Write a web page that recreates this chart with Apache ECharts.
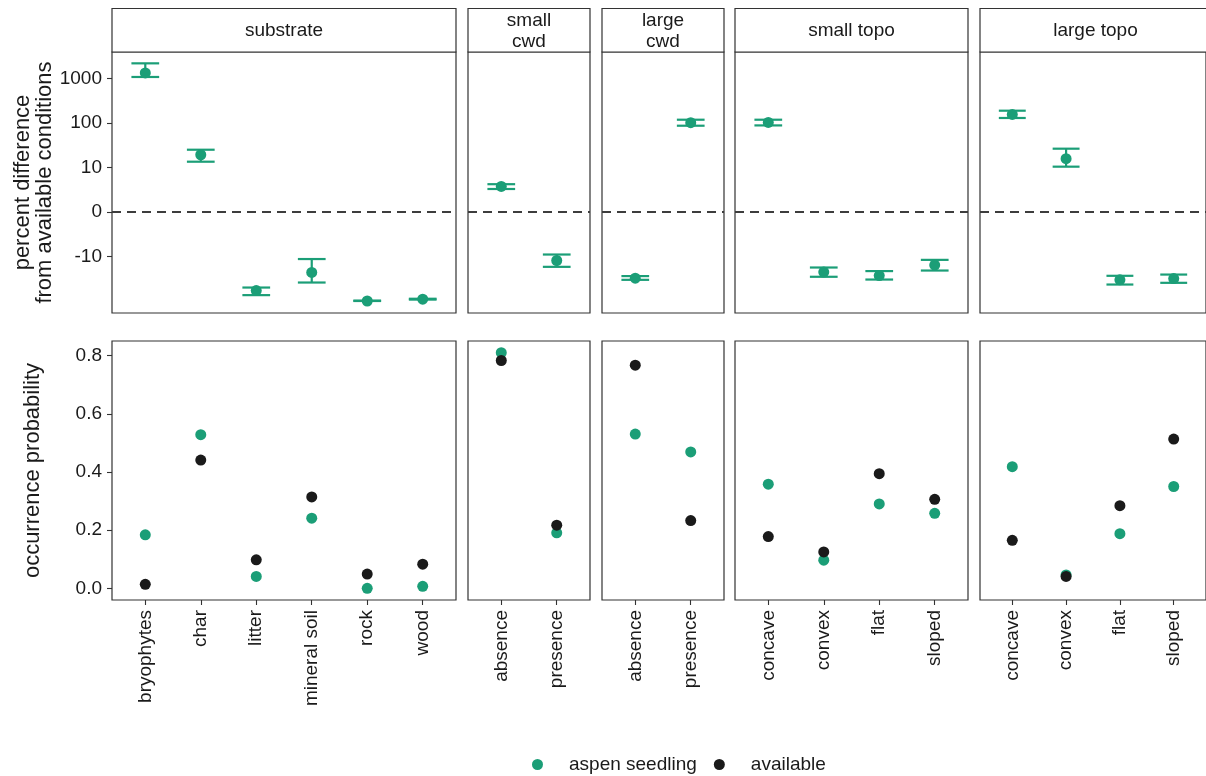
<!DOCTYPE html>
<html>
<head>
<meta charset="utf-8">
<script src="https://cdn.jsdelivr.net/npm/echarts@6/dist/echarts.min.js"></script>
<style>
  html, body { margin: 0; padding: 0; background: #fff; }
  #chart { width: 1206px; height: 776px; }
</style>
</head>
<body>
<div id="chart"></div>
<script>
// Facet titles and their categories
const facets = ['substrate', 'small\ncwd', 'large\ncwd', 'small topo', 'large topo'];
const categories = [
  ['bryophytes', 'char', 'litter', 'mineral soil', 'rock', 'wood'],
  ['absence', 'presence'],
  ['absence', 'presence'],
  ['concave', 'convex', 'flat', 'sloped'],
  ['concave', 'convex', 'flat', 'sloped']
];

// Percent difference of aspen seedlings from available conditions (estimate, lower, upper)
const pctDiff = [
  [1343, 19.4, -58.2, -22.8, -100, -90.8],
  [3.5, -12.2],
  [-30.6, 102.3],
  [104, -22.3, -26.7, -15.5],
  [157.4, 15.8, -33.4, -31.2]
];
const pctLow = [
  [1092, 13.5, -73.8, -38.4, -100, -93],
  [3.0, -17.0],
  [-33.4, 87.5],
  [88.9, -28.5, -32.9, -20.6],
  [130.6, 10.4, -42.6, -39.0]
];
const pctHigh = [
  [2213, 25.2, -49.8, -11.3, -98, -89],
  [4.0, -8.9],
  [-27.5, 119.4],
  [119.4, -17.6, -21.2, -11.8],
  [190.5, 26.6, -27.1, -25.4]
];

// Occurrence probability
const aspenSeedling = [
  [0.184, 0.528, 0.041, 0.241, 0.0, 0.007],
  [0.810, 0.191],
  [0.530, 0.469],
  [0.358, 0.097, 0.290, 0.258],
  [0.418, 0.046, 0.188, 0.350]
];
const available = [
  [0.014, 0.441, 0.098, 0.314, 0.049, 0.083],
  [0.783, 0.217],
  [0.767, 0.233],
  [0.178, 0.125, 0.394, 0.306],
  [0.165, 0.041, 0.284, 0.513]
];

// Axis tick labels
const pctTicks = [-10, 0, 10, 100, 1000];
const probTicks = [0, 0.2, 0.4, 0.6, 0.8];

// Pseudo-log (signed) transform, base 10
const pseudoLog = v => Math.asinh(v / 2) / Math.LN10;

const GREEN = '#1b9e77';
const BLACK = '#1a1a1a';
const TEXT = '#1a1a1a';
const BORDER = '#333333';
const FONT = '"Liberation Sans", Arial, Helvetica, sans-serif';

// Panel layout
const colLeft = [112, 468, 602, 735, 980];
const colWidth = [344, 122, 122, 233, 231];
const rowTop = [52, 341];
const rowHeight = [261, 259];
const stripTop = 8.5;

const grids = [], xAxes = [], yAxes = [], series = [], graphics = [];

facets.forEach((facet, c) => {
  const cats = categories[c];
  const n = cats.length;
  const xs = cats.map((_, i) => i + 1);

  for (let r = 0; r < 2; r++) {
    const gi = grids.length;
    grids.push({
      left: colLeft[c], top: rowTop[r], width: colWidth[c], height: rowHeight[r],
      show: true, borderColor: BORDER, borderWidth: 1.2, backgroundColor: 'transparent',
      containLabel: false
    });
    xAxes.push({
      type: 'value', gridIndex: gi, min: 0.4, max: n + 0.6,
      axisLine: { show: false, onZero: false },
      splitLine: { show: false },
      axisTick: {
        show: r === 1, length: 5, customValues: xs,
        lineStyle: { color: BORDER, width: 1.1 }
      },
      axisLabel: {
        show: r === 1, customValues: xs, rotate: 90, margin: 10,
        fontSize: 19, fontFamily: FONT, color: TEXT,
        formatter: v => cats[Math.round(v) - 1] || ''
      }
    });
    const ticks = r === 0 ? pctTicks.map(pseudoLog) : probTicks;
    yAxes.push({
      type: 'value', gridIndex: gi,
      min: r === 0 ? -2.27 : -0.04,
      max: r === 0 ? 3.60 : 0.85,
      axisLine: { show: false, onZero: false },
      splitLine: { show: false },
      axisTick: {
        show: c === 0, length: 5, customValues: ticks,
        lineStyle: { color: BORDER, width: 1.1 }
      },
      axisLabel: {
        show: c === 0, customValues: ticks, margin: 10,
        fontSize: 19, fontFamily: FONT, color: TEXT,
        formatter: v => {
          if (r === 1) return v.toFixed(1);
          const k = pctTicks.findIndex(t => Math.abs(pseudoLog(t) - v) < 1e-6);
          return k >= 0 ? String(pctTicks[k]) : '';
        }
      }
    });

    if (r === 0) {
      // error bars
      series.push({
        type: 'custom', name: 'aspen seedling', xAxisIndex: gi, yAxisIndex: gi,
        color: GREEN, z: 2,
        encode: { x: 0, y: [1, 2] },
        data: xs.map((x, i) => [x, pseudoLog(pctLow[c][i]), pseudoLog(pctHigh[c][i])]),
        renderItem: (params, api) => {
          const x = api.value(0);
          const pLo = api.coord([x, api.value(1)]);
          const pHi = api.coord([x, api.value(2)]);
          const half = api.size([0.5, 0])[0] / 2;
          const st = { stroke: GREEN, lineWidth: 2.2 };
          return {
            type: 'group', children: [
              { type: 'line', shape: { x1: pLo[0], y1: pLo[1], x2: pHi[0], y2: pHi[1] }, style: st },
              { type: 'line', shape: { x1: pLo[0] - half, y1: pLo[1], x2: pLo[0] + half, y2: pLo[1] }, style: st },
              { type: 'line', shape: { x1: pHi[0] - half, y1: pHi[1], x2: pHi[0] + half, y2: pHi[1] }, style: st }
            ]
          };
        }
      });
      // estimates, with the zero reference line
      series.push({
        type: 'scatter', name: 'aspen seedling', xAxisIndex: gi, yAxisIndex: gi,
        symbol: 'circle', symbolSize: 11, itemStyle: { color: GREEN, opacity: 1 }, z: 3,
        data: xs.map((x, i) => [x, pseudoLog(pctDiff[c][i])]),
        markLine: {
          silent: true, symbol: 'none', label: { show: false },
          lineStyle: { type: [9, 6], color: '#3d3d3d', width: 1.9 },
          data: [{ yAxis: 0 }]
        }
      });
    } else {
      series.push({
        type: 'scatter', name: 'aspen seedling', xAxisIndex: gi, yAxisIndex: gi,
        symbol: 'circle', symbolSize: 11, itemStyle: { color: GREEN, opacity: 1 }, z: 3,
        data: xs.map((x, i) => [x, aspenSeedling[c][i]])
      });
      series.push({
        type: 'scatter', name: 'available', xAxisIndex: gi, yAxisIndex: gi,
        symbol: 'circle', symbolSize: 11, itemStyle: { color: BLACK, opacity: 1 }, z: 4,
        data: xs.map((x, i) => [x, available[c][i]])
      });
    }
  }

  // facet strip
  graphics.push({
    type: 'rect',
    shape: { x: colLeft[c], y: stripTop, width: colWidth[c], height: rowTop[0] - stripTop },
    style: { fill: '#fff', stroke: BORDER, lineWidth: 1.2 }
  });
  graphics.push({
    type: 'text',
    x: colLeft[c] + colWidth[c] / 2, y: (stripTop + rowTop[0]) / 2 + 1,
    style: {
      text: facet, fill: TEXT, font: '19px ' + FONT, lineHeight: 21,
      textAlign: 'center', textVerticalAlign: 'middle'
    }
  });
});

// y-axis titles
graphics.push({
  type: 'text', x: 34, y: rowTop[0] + rowHeight[0] / 2, rotation: Math.PI / 2,
  style: {
    text: 'percent difference\nfrom available conditions', fill: TEXT,
    font: '22px ' + FONT, lineHeight: 22, textAlign: 'center', textVerticalAlign: 'middle'
  }
});
graphics.push({
  type: 'text', x: 33, y: rowTop[1] + rowHeight[1] / 2, rotation: Math.PI / 2,
  style: {
    text: 'occurrence probability', fill: TEXT,
    font: '22px ' + FONT, textAlign: 'center', textVerticalAlign: 'middle'
  }
});

const chart = echarts.init(document.getElementById('chart'), null, { renderer: 'canvas' });
chart.setOption({
  animation: false,
  backgroundColor: '#fff',
  grid: grids,
  xAxis: xAxes,
  yAxis: yAxes,
  legend: {
    data: [
      { name: 'aspen seedling', itemStyle: { color: GREEN } },
      { name: 'available', itemStyle: { color: BLACK } }
    ],
    left: 527, top: 750,
    icon: 'circle', itemWidth: 11, itemHeight: 11, itemGap: 17,
    textStyle: { fontSize: 19, fontFamily: FONT, color: TEXT, padding: [0, 0, 0, 21] },
    selectedMode: false
  },
  series: series,
  graphic: graphics
});
</script>
</body>
</html>
